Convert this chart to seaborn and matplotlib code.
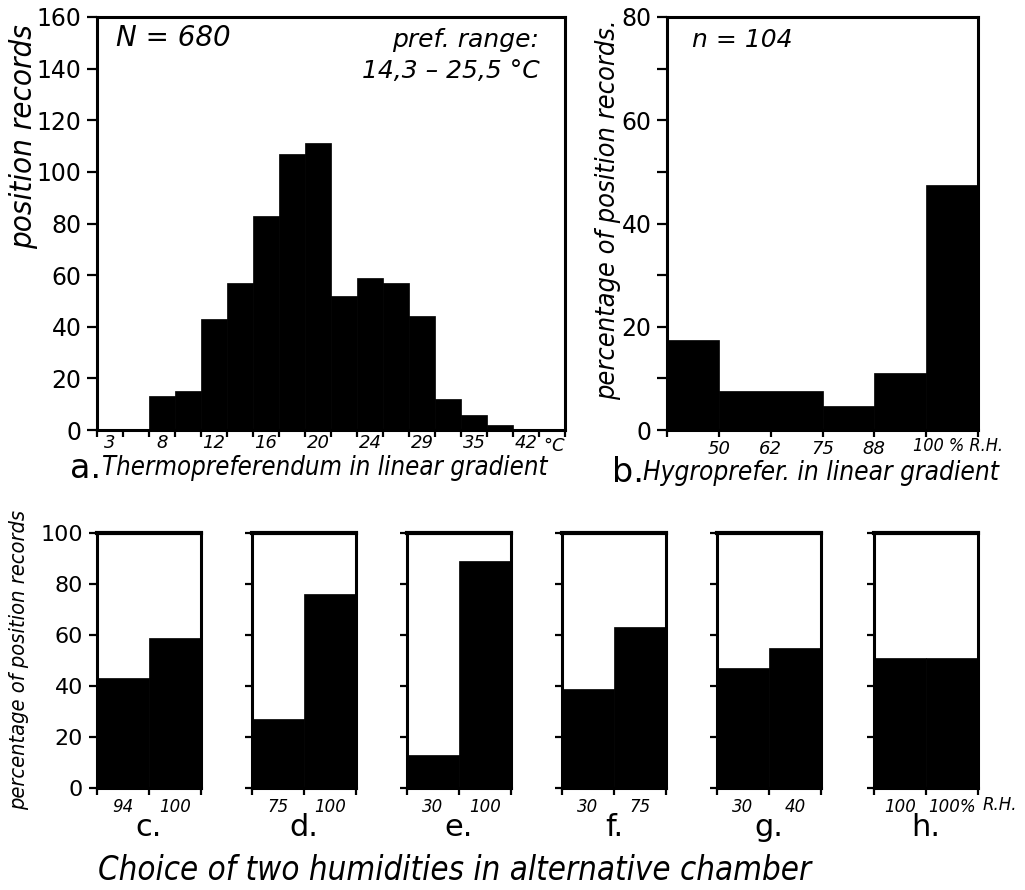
import numpy as np
import pandas as pd
import matplotlib
matplotlib.use("Agg")
import matplotlib.pyplot as plt
from matplotlib.ticker import FixedLocator
import seaborn as sns

# ---------------- data ----------------
# a. Thermopreferendum (position records per gradient section)
temp_tick_labels = ["3", "8", "12", "16", "20", "24", "29", "35", "42"]
temp_counts = [0, 0, 13, 15, 43, 57, 83, 107, 111, 52, 59, 57, 44, 12, 6, 2, 0, 0]

# b. Hygropreferendum (percentage of position records)
rh_tick_labels = ["50", "62", "75", "88"]
rh_bin_edges = [0, 1, 3, 4, 5, 6]
rh_percent = [17.5, 7.5, 4.7, 11.0, 47.5]

# c.-h. choice of two humidities
pair_letters = ["c.", "d.", "e.", "f.", "g.", "h."]
pair_low_labels = ["94", "75", "30", "30", "30", "100"]
pair_high_labels = ["100", "100", "100", "75", "40", "100%"]
pair_low_pct = [43, 27, 13, 39, 47, 51]
pair_high_pct = [59, 76, 89, 63, 55, 51]

# ---------------- style ----------------
sns.set_theme(style="ticks")
plt.rcParams["font.family"] = ["DejaVu Sans"]
for key in ["text.color", "axes.labelcolor", "xtick.color", "ytick.color", "axes.edgecolor"]:
    plt.rcParams[key] = "black"
W, H = 1025, 890
fig = plt.figure(figsize=(W / 100, H / 100), dpi=100)
fig.patch.set_facecolor("white")
renderer = fig.canvas.get_renderer()


def px_axes(left, top, right, bottom):
    return fig.add_axes([left / W, 1 - bottom / H, (right - left) / W, (bottom - top) / H])


def ftext(x, y, s, **kw):
    return fig.text(x / W, 1 - y / H, s, **kw)


def fit_text(x, y, s, span, vertical=False, **kw):
    """Place a text and scale its font so that it covers `span` pixels."""
    t = ftext(x, y, s, **kw)
    for _ in range(3):
        bb = t.get_window_extent(renderer)
        cur = bb.height if vertical else bb.width
        if cur > 0:
            t.set_fontsize(t.get_fontsize() * span / cur)
    return t


def style_axes(ax):
    ax.set_facecolor("white")
    for sp in ax.spines.values():
        sp.set_visible(True)
        sp.set_linewidth(2.2)
        sp.set_color("black")
    ax.set_xlabel("")
    ax.set_ylabel("")
    ax.tick_params(axis="both", which="both", direction="out", color="black", width=1.6)


def draw_hist(ax, edges, values):
    edges = [float(e) for e in edges]
    centers = [(a + b) / 2 for a, b in zip(edges[:-1], edges[1:])]
    df = pd.DataFrame({"pos": centers, "val": [float(v) for v in values]})
    sns.histplot(data=df, x="pos", weights="val", bins=edges, color="black",
                 alpha=1, edgecolor="black", linewidth=0.5, ax=ax)


NARROW_KW = dict(fontstyle="italic", fontstretch="condensed")

# ---------------- panel a ----------------
axa = px_axes(97, 17, 565, 430)
n_a = len(temp_counts)
draw_hist(axa, range(n_a + 1), temp_counts)
style_axes(axa)
axa.set_xlim(0, n_a)
axa.set_ylim(0, 160)
axa.set_yticks(range(0, 161, 20))
axa.tick_params(axis="y", labelsize=17, length=7, pad=4)
axa.set_xticks(np.arange(0.5, n_a, 2)[:len(temp_tick_labels)])
axa.set_xticklabels(temp_tick_labels, fontstyle="italic", fontsize=13)
axa.tick_params(axis="x", which="major", length=0, pad=3)
axa.xaxis.set_minor_locator(FixedLocator(np.arange(0, n_a + 1, 1)))
axa.tick_params(axis="x", which="minor", length=5)
axa.text(17.15, -0.018, "°C", transform=axa.get_xaxis_transform(), ha="left", va="top",
         fontsize=13, fontstyle="italic")
axa.text(0.04, 0.95, "N = 680", transform=axa.transAxes, ha="left", va="center",
         fontsize=20, fontstyle="italic")
axa.text(0.945, 0.945, "pref. range:", transform=axa.transAxes, ha="right", va="center",
         fontsize=18, fontstyle="italic")
axa.text(0.945, 0.87, "14,3 – 25,5 °C", transform=axa.transAxes, ha="right", va="center",
         fontsize=18, fontstyle="italic")
fit_text(24, 137, "position records", 225, vertical=True, rotation=90, ha="center",
         va="center", fontsize=18, **NARROW_KW)
ftext(70, 469, "a.", ha="left", va="center", fontsize=24)
fit_text(102, 468, "Thermopreferendum in linear gradient", 446, ha="left", va="center",
         fontsize=20, **NARROW_KW)

# ---------------- panel b ----------------
axb = px_axes(667, 17, 978, 430)
draw_hist(axb, rh_bin_edges, rh_percent)
style_axes(axb)
axb.set_xlim(rh_bin_edges[0], rh_bin_edges[-1])
axb.set_ylim(0, 80)
axb.set_yticks(range(0, 81, 20))
axb.yaxis.set_minor_locator(FixedLocator(range(10, 80, 20)))
axb.tick_params(axis="y", which="both", labelsize=17, length=7, pad=4)
axb.set_xticks(np.arange(1, len(rh_tick_labels) + 1))
axb.set_xticklabels(rh_tick_labels, fontstyle="italic", fontsize=13)
axb.xaxis.set_minor_locator(FixedLocator([0, 5, 6]))
axb.tick_params(axis="x", which="both", length=5, pad=2)
axb.text(4.75, -0.016, "100 % R.H.", transform=axb.get_xaxis_transform(), ha="left", va="top",
         fontsize=13, fontstyle="italic", fontstretch="condensed")
axb.text(0.08, 0.945, "n = 104", transform=axb.transAxes, ha="left", va="center",
         fontsize=18, fontstyle="italic")
fit_text(608, 210, "percentage of position records.", 380, vertical=True, rotation=90,
         ha="center", va="center", fontsize=18, **NARROW_KW)
ftext(612, 473, "b.", ha="left", va="center", fontsize=24)
fit_text(643, 473, "Hygroprefer. in linear gradient", 355, ha="left", va="center",
         fontsize=20, **NARROW_KW)

# ---------------- panels c-h ----------------
lefts = [97, 252, 407, 562, 717, 874]
pw = 104
for i, left in enumerate(lefts):
    ax = px_axes(left, 533, left + pw, 788)
    draw_hist(ax, [0, 1, 2], [pair_low_pct[i], pair_high_pct[i]])
    style_axes(ax)
    ax.spines["top"].set_linewidth(3)
    ax.set_xlim(0, 2)
    ax.set_ylim(0, 100)
    ax.set_yticks(range(0, 101, 20))
    if i == 0:
        ax.tick_params(axis="y", labelsize=16, length=6, pad=4)
    else:
        ax.tick_params(axis="y", labelleft=False, length=5)
    ax.set_xticks([0.5, 1.5])
    ax.set_xticklabels([pair_low_labels[i], pair_high_labels[i]],
                       fontstyle="italic", fontsize=12)
    ax.tick_params(axis="x", which="major", length=0, pad=7)
    ax.xaxis.set_minor_locator(FixedLocator([0, 1, 2]))
    ax.tick_params(axis="x", which="minor", length=5)
    if i == len(lefts) - 1:
        ax.text(2.08, -0.03, "R.H.", transform=ax.get_xaxis_transform(), ha="left",
                va="top", fontsize=12, fontstyle="italic")
    ftext(left + pw / 2, 828, pair_letters[i], ha="center", va="center", fontsize=22)

fit_text(19, 660, "percentage of position records", 300, vertical=True, rotation=90,
         ha="center", va="center", fontsize=16, **NARROW_KW)
fit_text(98, 870, "Choice of two humidities in alternative chamber", 712, ha="left",
         va="center", fontsize=26, **NARROW_KW)

fig.savefig("out.png", dpi=100, facecolor="white")
